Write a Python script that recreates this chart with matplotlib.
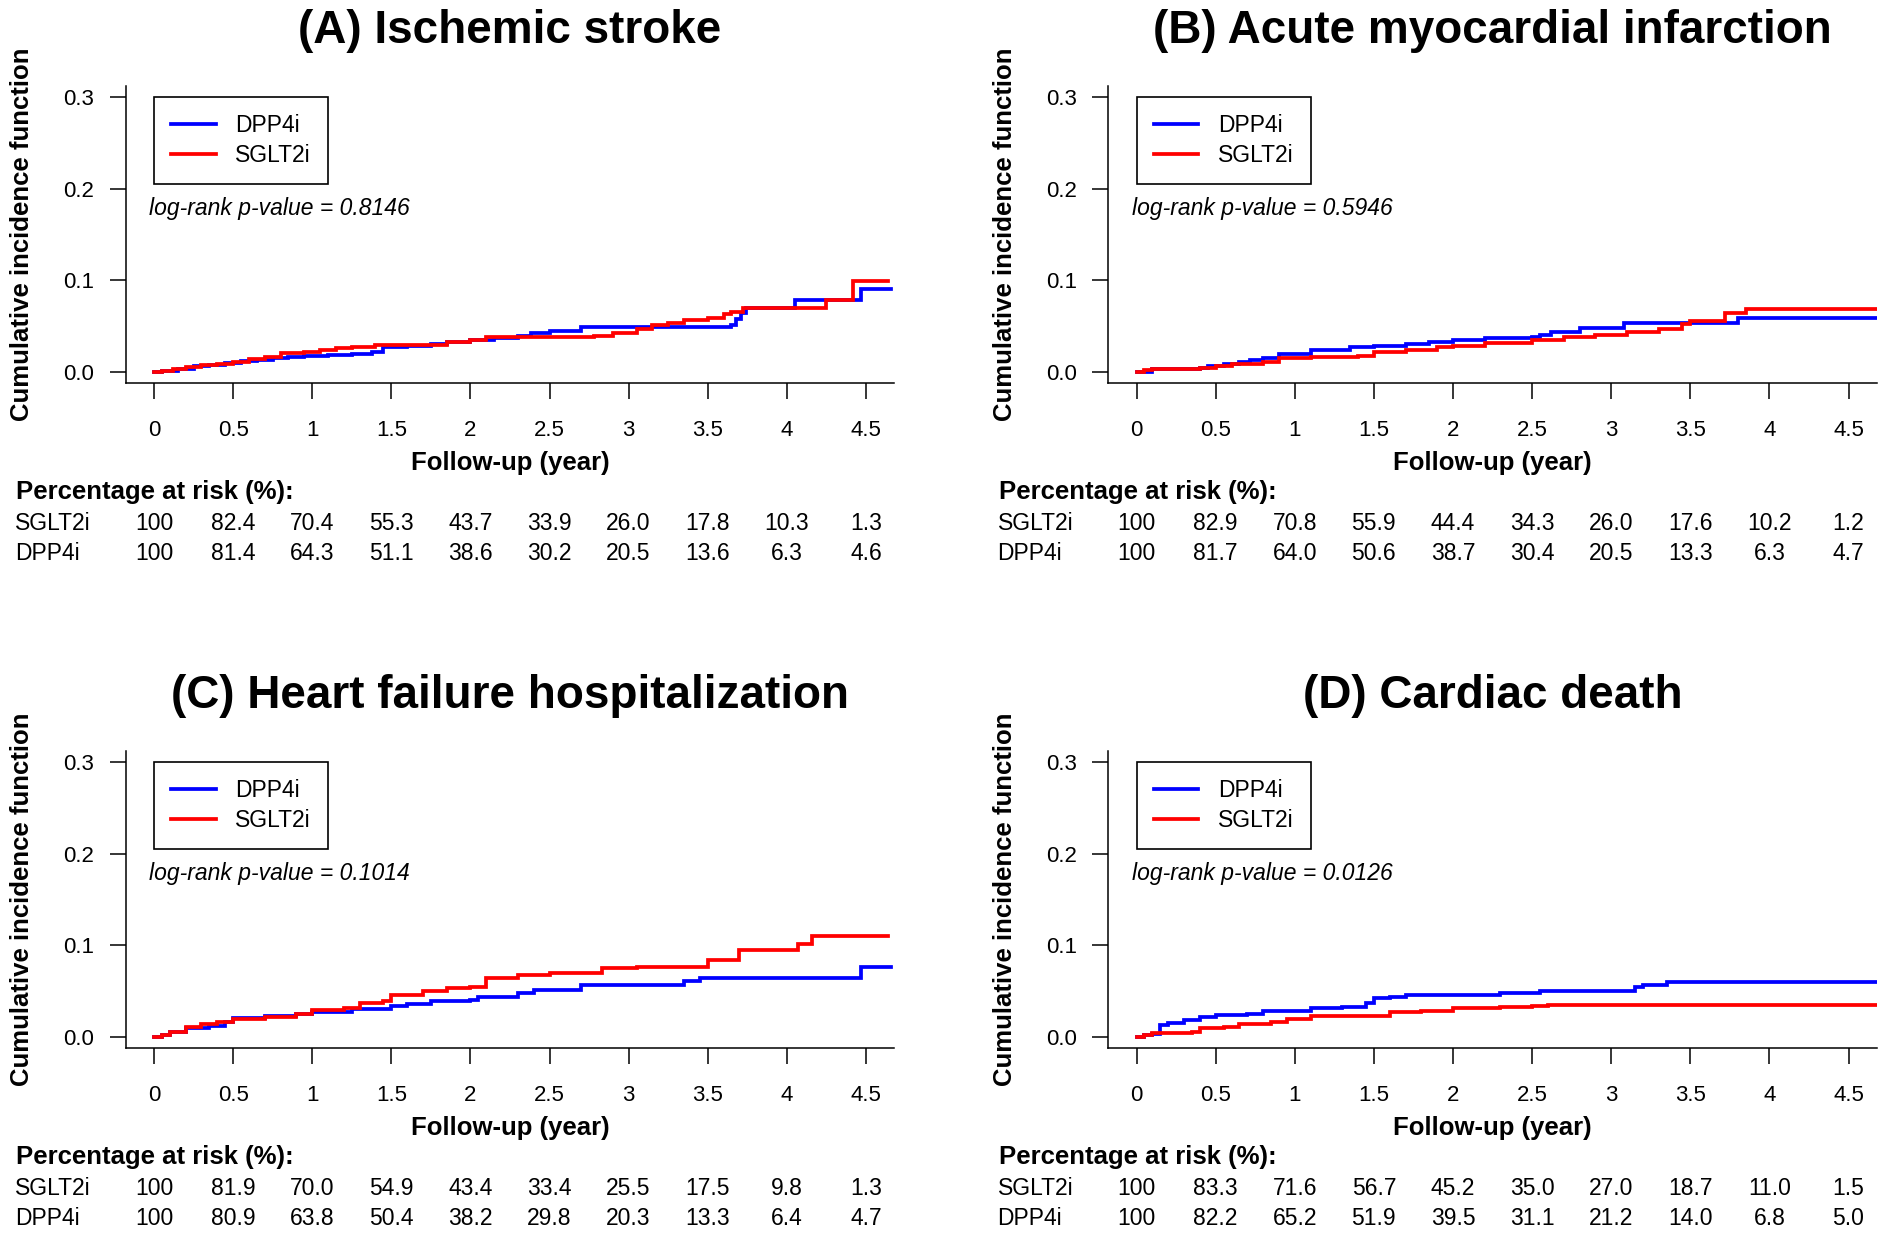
import matplotlib
matplotlib.use('Agg')
import matplotlib.pyplot as plt
from matplotlib import transforms
from matplotlib.lines import Line2D

# ---------------- data ----------------
titles = ["(A) Ischemic stroke", "(B) Acute myocardial infarction",
          "(C) Heart failure hospitalization", "(D) Cardiac death"]
pvalues = ["0.8146", "0.5946", "0.1014", "0.0126"]

tick_years = [0, 0.5, 1, 1.5, 2, 2.5, 3, 3.5, 4, 4.5]
tick_year_labels = ["0", "0.5", "1", "1.5", "2", "2.5", "3", "3.5", "4", "4.5"]
y_ticks = [0.0, 0.1, 0.2, 0.3]
y_tick_labels = ["0.0", "0.1", "0.2", "0.3"]

# Panel A - Ischemic stroke
a_dpp_t = [0, 0.05, 0.15, 0.25, 0.35, 0.45, 0.55, 0.65, 0.75, 0.85, 0.95, 1.1, 1.25, 1.38, 1.45,
           1.6, 1.75, 1.85, 2.0, 2.15, 2.3, 2.38, 2.5, 2.7, 3.65, 3.68, 3.71, 3.74, 4.05, 4.47, 4.66]
a_dpp_v = [0, 0.001, 0.004, 0.007, 0.008, 0.010, 0.012, 0.013, 0.015, 0.017, 0.018, 0.019, 0.020, 0.022, 0.027,
           0.029, 0.031, 0.033, 0.035, 0.037, 0.040, 0.043, 0.045, 0.049, 0.052, 0.058, 0.064, 0.070, 0.079, 0.091, 0.091]
a_sglt_t = [0, 0.05, 0.12, 0.2, 0.3, 0.4, 0.5, 0.6, 0.7, 0.8, 0.95, 1.05, 1.15, 1.25, 1.4, 1.55, 1.85,
            2.0, 2.1, 2.7, 2.78, 2.9, 3.05, 3.15, 3.25, 3.35, 3.5, 3.6, 3.65, 3.72, 4.25, 4.42, 4.64]
a_sglt_v = [0, 0.001, 0.004, 0.006, 0.008, 0.009, 0.011, 0.014, 0.017, 0.021, 0.022, 0.024, 0.026, 0.028, 0.030, 0.030, 0.033,
            0.035, 0.038, 0.038, 0.040, 0.043, 0.047, 0.052, 0.054, 0.057, 0.059, 0.063, 0.066, 0.070, 0.079, 0.099, 0.099]

# Panel B - Acute myocardial infarction
b_dpp_t = [0, 0.1, 0.4, 0.45, 0.55, 0.65, 0.72, 0.8, 0.9, 1.1, 1.35, 1.5, 1.7, 1.85, 2.0, 2.2,
           2.5, 2.55, 2.62, 2.8, 3.08, 3.8, 4.68]
b_dpp_v = [0, 0.004, 0.005, 0.007, 0.009, 0.011, 0.013, 0.016, 0.020, 0.024, 0.027, 0.029, 0.031, 0.033, 0.035, 0.037,
           0.038, 0.041, 0.044, 0.048, 0.054, 0.059, 0.059]
b_sglt_t = [0, 0.05, 0.1, 0.4, 0.5, 0.6, 0.8, 0.9, 1.1, 1.4, 1.5, 1.7, 1.9, 2.0, 2.2, 2.5, 2.7, 2.9,
            3.1, 3.3, 3.45, 3.5, 3.72, 3.85, 4.68]
b_sglt_v = [0, 0.002, 0.004, 0.005, 0.007, 0.009, 0.011, 0.015, 0.017, 0.018, 0.022, 0.024, 0.027, 0.029, 0.032, 0.035, 0.038, 0.041,
            0.044, 0.047, 0.053, 0.056, 0.065, 0.069, 0.069]

# Panel C - Heart failure hospitalization
c_dpp_t = [0, 0.05, 0.1, 0.2, 0.35, 0.45, 0.5, 0.7, 0.9, 1.0, 1.25, 1.5, 1.6, 1.75, 2.0, 2.05,
           2.3, 2.4, 2.7, 3.35, 3.45, 4.47, 4.66]
c_dpp_v = [0, 0.002, 0.006, 0.010, 0.012, 0.017, 0.021, 0.023, 0.025, 0.028, 0.031, 0.034, 0.036, 0.039, 0.041, 0.044,
           0.048, 0.052, 0.057, 0.061, 0.065, 0.077, 0.077]
c_sglt_t = [0, 0.05, 0.1, 0.2, 0.3, 0.4, 0.5, 0.7, 0.9, 1.0, 1.2, 1.3, 1.45, 1.5, 1.7, 1.85, 2.0,
            2.1, 2.3, 2.5, 2.83, 3.05, 3.5, 3.7, 4.07, 4.16, 4.64]
c_sglt_v = [0, 0.002, 0.006, 0.011, 0.0145, 0.017, 0.020, 0.022, 0.025, 0.030, 0.032, 0.037, 0.040, 0.046, 0.050, 0.054, 0.055,
            0.064, 0.068, 0.070, 0.075, 0.077, 0.084, 0.095, 0.102, 0.110, 0.110]

# Panel D - Cardiac death
d_dpp_t = [0, 0.05, 0.1, 0.15, 0.2, 0.3, 0.4, 0.5, 0.7, 0.8, 1.1, 1.3, 1.45, 1.5, 1.6, 1.7,
           2.3, 2.55, 3.15, 3.2, 3.35, 4.68]
d_dpp_v = [0, 0.002, 0.004, 0.013, 0.015, 0.019, 0.022, 0.024, 0.025, 0.029, 0.032, 0.033, 0.037, 0.043, 0.044, 0.046,
           0.048, 0.050, 0.055, 0.057, 0.060, 0.060]
d_sglt_t = [0, 0.05, 0.1, 0.35, 0.4, 0.55, 0.65, 0.85, 0.95, 1.1, 1.6, 1.8, 2.0, 2.3, 2.5, 2.6, 4.68]
d_sglt_v = [0, 0.002, 0.005, 0.006, 0.010, 0.0116, 0.0145, 0.017, 0.020, 0.023, 0.027, 0.029, 0.032, 0.033, 0.0345, 0.035, 0.035]

# Percentage at risk tables
a_risk_sglt = ["100", "82.4", "70.4", "55.3", "43.7", "33.9", "26.0", "17.8", "10.3", "1.3"]
a_risk_dpp = ["100", "81.4", "64.3", "51.1", "38.6", "30.2", "20.5", "13.6", "6.3", "4.6"]
b_risk_sglt = ["100", "82.9", "70.8", "55.9", "44.4", "34.3", "26.0", "17.6", "10.2", "1.2"]
b_risk_dpp = ["100", "81.7", "64.0", "50.6", "38.7", "30.4", "20.5", "13.3", "6.3", "4.7"]
c_risk_sglt = ["100", "81.9", "70.0", "54.9", "43.4", "33.4", "25.5", "17.5", "9.8", "1.3"]
c_risk_dpp = ["100", "80.9", "63.8", "50.4", "38.2", "29.8", "20.3", "13.3", "6.4", "4.7"]
d_risk_sglt = ["100", "83.3", "71.6", "56.7", "45.2", "35.0", "27.0", "18.7", "11.0", "1.5"]
d_risk_dpp = ["100", "82.2", "65.2", "51.9", "39.5", "31.1", "21.2", "14.0", "6.8", "5.0"]

panel_data = [
    (a_dpp_t, a_dpp_v, a_sglt_t, a_sglt_v, a_risk_sglt, a_risk_dpp),
    (b_dpp_t, b_dpp_v, b_sglt_t, b_sglt_v, b_risk_sglt, b_risk_dpp),
    (c_dpp_t, c_dpp_v, c_sglt_t, c_sglt_v, c_risk_sglt, c_risk_dpp),
    (d_dpp_t, d_dpp_v, d_sglt_t, d_sglt_v, d_risk_sglt, d_risk_dpp),
]

# ---------------- layout ----------------
W, H = 1886, 1239
DPI = 100
plt.rcParams['font.family'] = ['Liberation Sans', 'DejaVu Sans']

fig = plt.figure(figsize=(W / DPI, H / DPI), dpi=DPI)

def fx(px):
    return px / W

def fy(py):
    return 1 - py / H

offsets = [(0, 0), (982.6, 0), (0, 665), (982.6, 665)]
BLUE = '#0000FF'
RED = '#FF0000'
FS = 16
FS_TXT = 16.5
FS_LAB = 18.5
FS_TITLE = 33
LW = 2.7

for i, (dx, dy) in enumerate(offsets):
    dpp_t, dpp_v, sglt_t, sglt_v, risk_sglt, risk_dpp = panel_data[i]
    left, right = 125.5 + dx, 894.4 + dx
    top, bottom = 85.7 + dy, 383.3 + dy
    ax = fig.add_axes([fx(left), fy(bottom), (right - left) / W, (bottom - top) / H])
    ax.set_xlim(-0.18, 4.68)
    ax.set_ylim(-0.012, 0.312)

    ax.plot(dpp_t, dpp_v, drawstyle='steps-post', color=BLUE, lw=LW, solid_joinstyle='miter')
    ax.plot(sglt_t, sglt_v, drawstyle='steps-post', color=RED, lw=LW, solid_joinstyle='miter')

    for s in ['top', 'right']:
        ax.spines[s].set_visible(False)
    for s in ['left', 'bottom']:
        ax.spines[s].set_linewidth(1.1)
    ax.set_xticks(tick_years)
    ax.set_xticklabels(tick_year_labels)
    ax.set_yticks(y_ticks)
    ax.set_yticklabels(y_tick_labels)
    ax.tick_params(axis='both', direction='out', length=11.5, width=1.1, labelsize=FS)
    ax.tick_params(axis='x', pad=15)
    ax.tick_params(axis='y', pad=11)

    handles = [Line2D([], [], color=BLUE, lw=LW), Line2D([], [], color=RED, lw=LW)]
    leg = ax.legend(handles, ["DPP4i", "SGLT2i"], loc='upper left', bbox_to_anchor=(0, 0.3),
                    bbox_transform=ax.transData, borderaxespad=0, frameon=True, fancybox=False,
                    edgecolor='black', framealpha=1, fontsize=FS_TXT, handlelength=1.95,
                    handletextpad=0.85, borderpad=0.75, labelspacing=0.32)
    leg.get_frame().set_linewidth(1.2)

    ax.text(-0.03, 0.178, "log-rank p-value = " + pvalues[i], style='italic', fontsize=FS_TXT,
            ha='left', va='center')

    cx = (left + right) / 2
    fig.text(fx(cx), fy(43 + dy), titles[i], fontsize=FS_TITLE, fontweight='bold',
             ha='center', va='baseline')
    fig.text(fx(22 + dx), fy((top + bottom) / 2), "Cumulative incidence function",
             fontsize=FS_LAB, fontweight='bold', rotation=90, ha='center', va='center')
    fig.text(fx(cx), fy(470 + dy), "Follow-up (year)", fontsize=FS_LAB, fontweight='bold',
             ha='center', va='baseline')
    fig.text(fx(16 + dx), fy(499 + dy), "Percentage at risk (%):", fontsize=FS_LAB,
             fontweight='bold', ha='left', va='baseline')

    trans = transforms.blended_transform_factory(ax.transData, fig.transFigure)
    fig.text(fx(15 + dx), fy(530 + dy), "SGLT2i", fontsize=FS_TXT, ha='left', va='baseline')
    fig.text(fx(15 + dx), fy(560 + dy), "DPP4i", fontsize=FS_TXT, ha='left', va='baseline')
    for t, s1, s2 in zip(tick_years, risk_sglt, risk_dpp):
        ax.text(t, fy(530 + dy), s1, transform=trans, fontsize=FS_TXT, ha='center', va='baseline',
                clip_on=False)
        ax.text(t, fy(560 + dy), s2, transform=trans, fontsize=FS_TXT, ha='center', va='baseline',
                clip_on=False)

fig.savefig('out.png', dpi=DPI, facecolor='white')
